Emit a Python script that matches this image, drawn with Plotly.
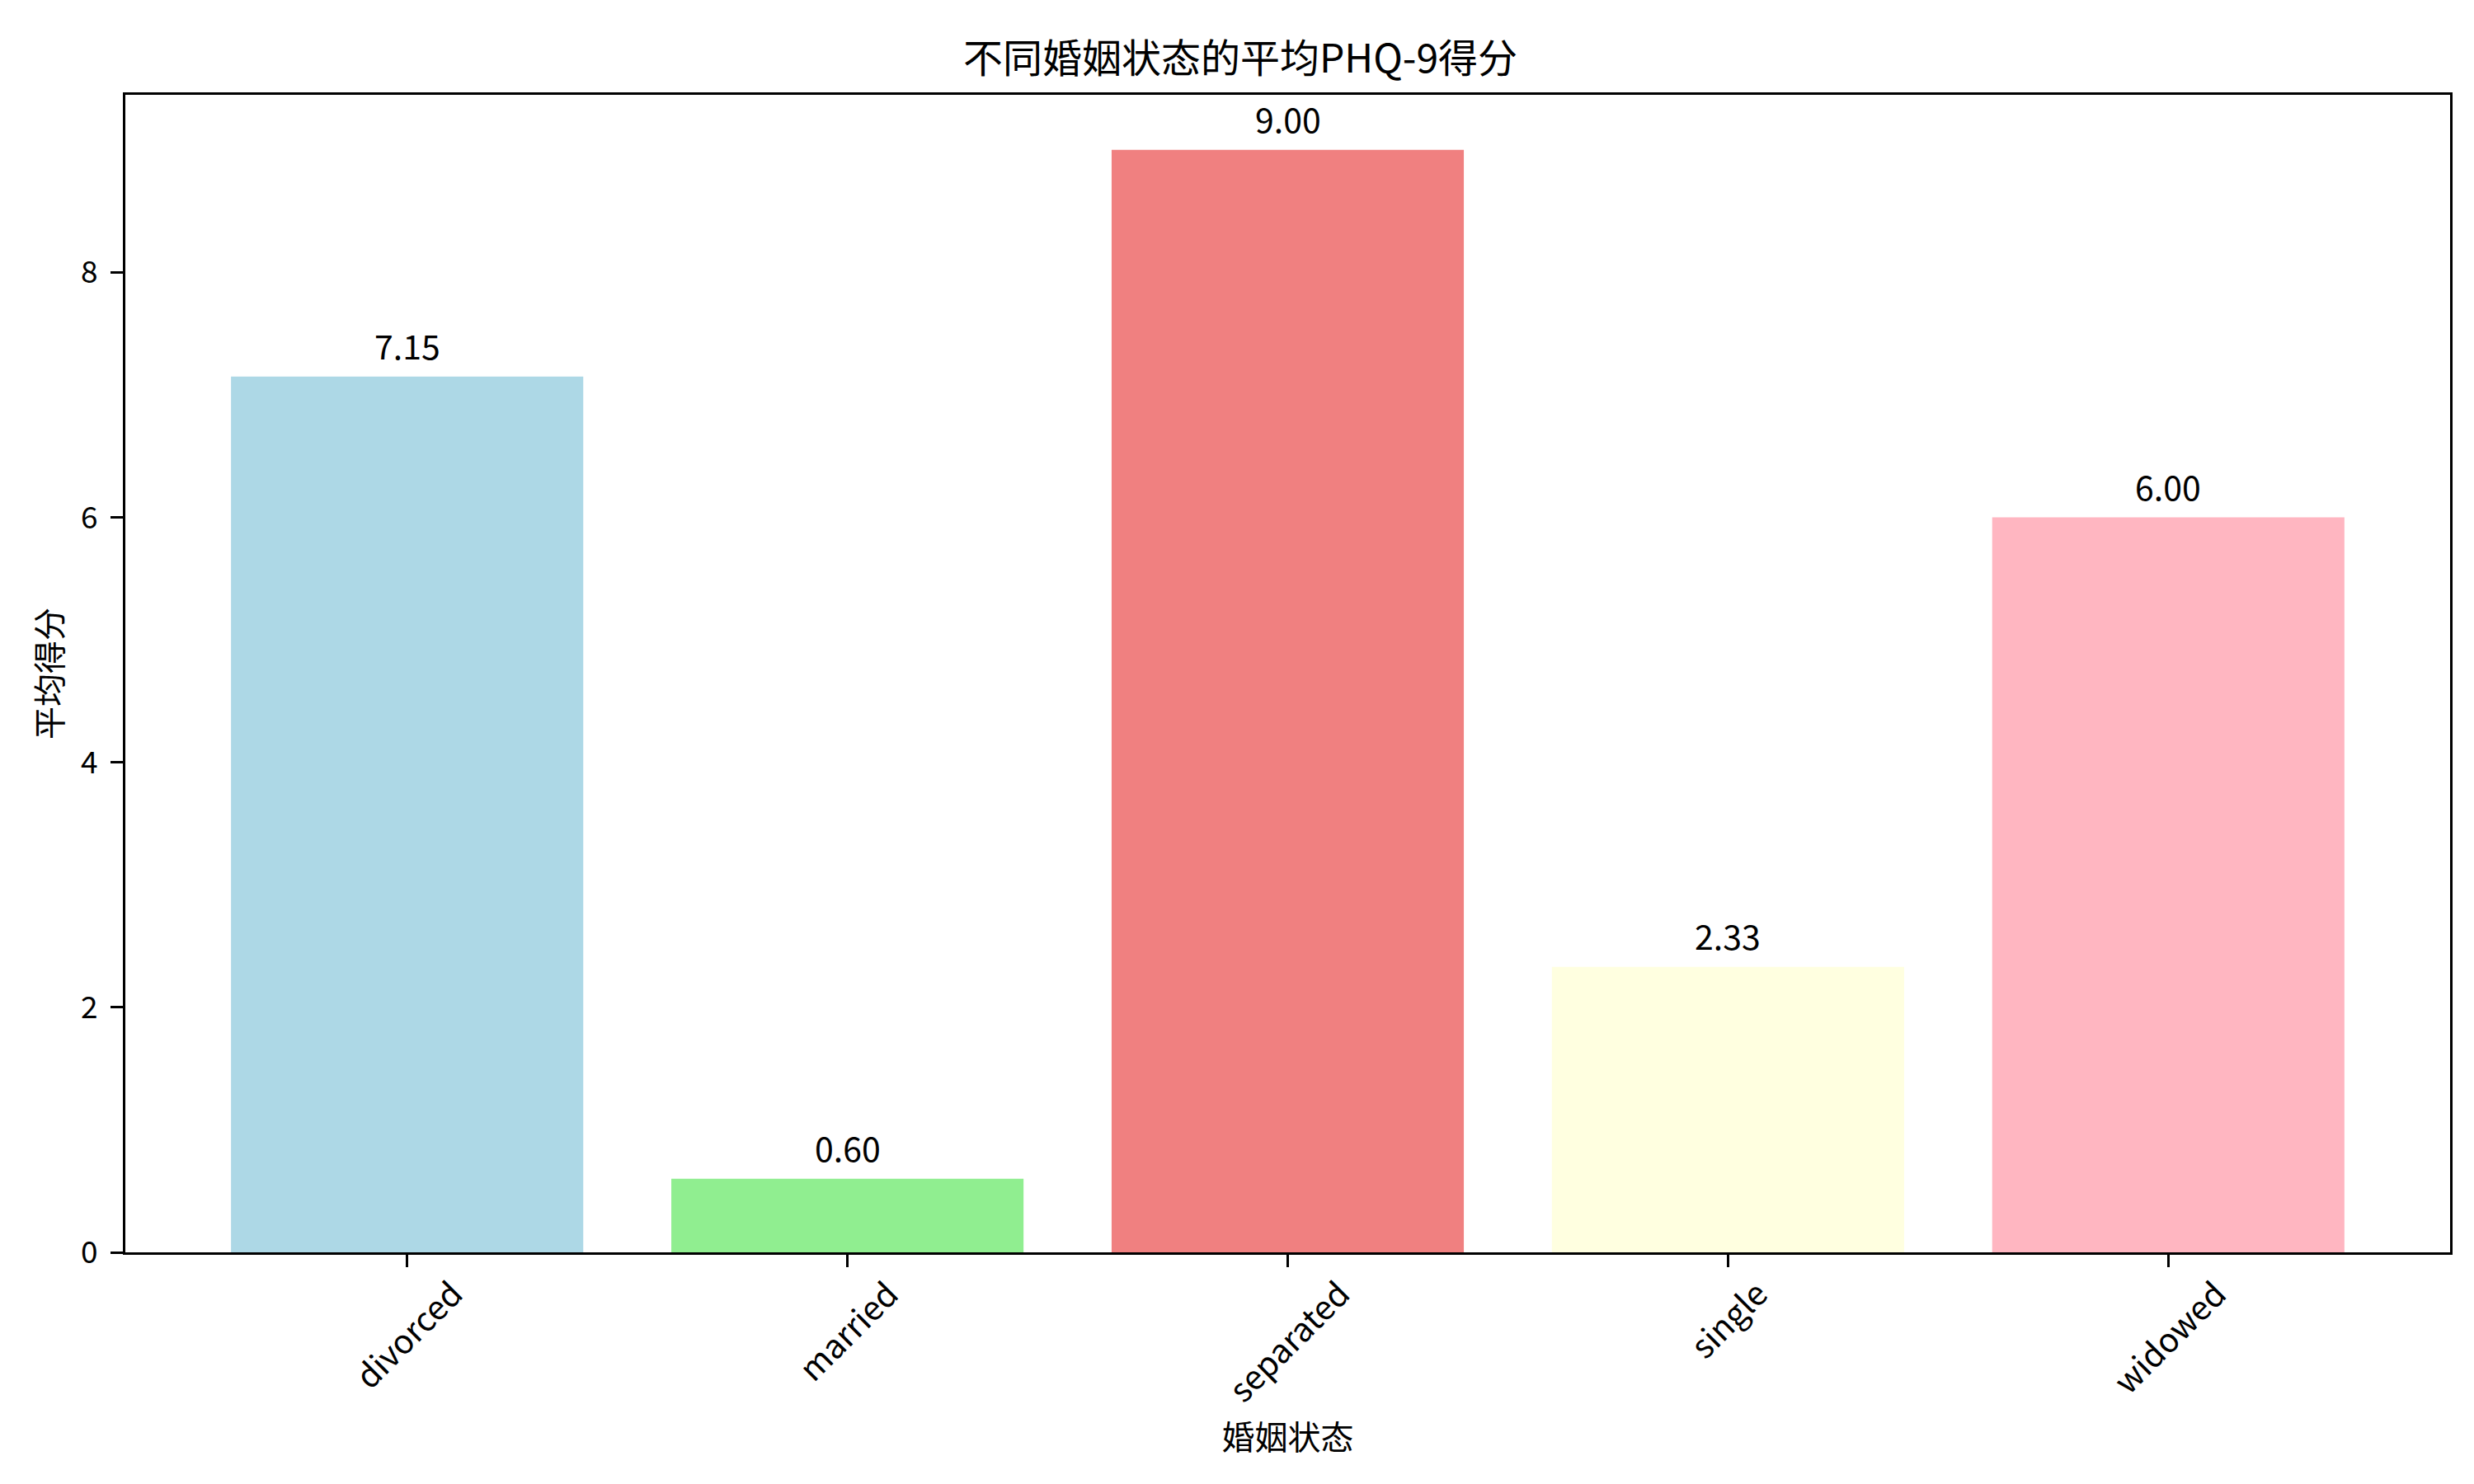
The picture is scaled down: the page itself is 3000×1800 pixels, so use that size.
import plotly.graph_objects as go

# Marital status categories and their mean PHQ-9 scores
statuses = ["divorced", "married", "separated", "single", "widowed"]
mean_scores = [7.15, 0.60, 9.00, 2.33, 6.00]
bar_colors = ["#ADD8E6", "#90EE90", "#F08080", "#FFFFE0", "#FFB6C1"]
y_ticks = [0, 2, 4, 6, 8]

FONT = "Noto Sans CJK SC, Noto Sans, sans-serif"

# page body has an 8px margin, so the figure is 8px smaller than the window
W, H = 2992, 1792

fig = go.Figure(go.Bar(
    x=statuses,
    y=mean_scores,
    width=0.8,
    marker_color=bar_colors,
    marker_line_width=0,
))

# value labels above each bar
for s, v in zip(statuses, mean_scores):
    fig.add_annotation(
        x=s, y=v, text=f"{v:.2f}", showarrow=False,
        yanchor="bottom", xanchor="center", yshift=7,
        font=dict(family=FONT, size=41, color="black"),
    )

# rotated category labels, centred under each tick
for s in statuses:
    fig.add_annotation(
        x=s, xref="x", y=0, yref="paper", text=s, showarrow=False,
        textangle=-45, xanchor="center", yanchor="top", yshift=-18,
        font=dict(family=FONT, size=40, color="black"),
    )

axis_common = dict(
    showline=True, linecolor="black", linewidth=3.3, mirror=True,
    ticks="outside", ticklen=15, tickwidth=3.3, tickcolor="black",
    showgrid=False, zeroline=False,
)

fig.update_layout(
    width=W, height=H,
    margin=dict(l=144, r=29, t=107, b=281),
    paper_bgcolor="white", plot_bgcolor="white",
    font=dict(family=FONT, color="black"),
    title=dict(
        text="不同婚姻状态的平均PHQ-9得分",
        x=0.5, xanchor="center", xref="container",
        y=1 - 63 / H, yanchor="middle", yref="container",
        font=dict(family=FONT, size=48, color="black"),
    ),
    showlegend=False,
    xaxis=dict(
        **axis_common,
        range=[-0.64, 4.64],
        showticklabels=False,
        title=dict(text="婚姻状态", standoff=194,
                   font=dict(family=FONT, size=40, color="black")),
    ),
    yaxis=dict(
        **axis_common,
        range=[0, 9.45],
        tickvals=y_ticks,
        ticklabelstandoff=8,
        tickfont=dict(family=FONT, size=37, color="black"),
        title=dict(text="平均得分", standoff=10,
                   font=dict(family=FONT, size=40, color="black")),
    ),
)

fig.write_html("out.html")
